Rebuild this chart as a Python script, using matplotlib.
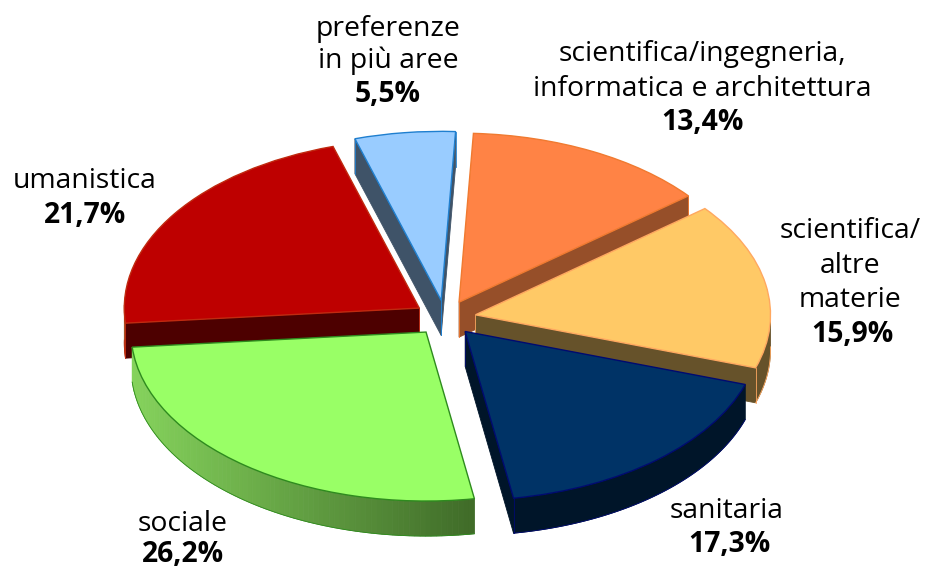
import numpy as np
import matplotlib
matplotlib.use("Agg")
import matplotlib.pyplot as plt
from matplotlib.colors import to_rgb

W, H = 927, 570

# slices, counterclockwise from the top
names = ["preferenze\nin più aree", "umanistica", "sociale", "sanitaria",
         "scientifica/\naltre\nmaterie", "scientifica/ingegneria,\ninformatica e architettura"]
values = [5.5, 21.7, 26.2, 17.3, 15.9, 13.4]
pct_labels = ["5,5%", "21,7%", "26,2%", "17,3%", "15,9%", "13,4%"]

top_colors = ["#99CCFF", "#BE0000", "#99FF66", "#003366", "#FFC966", "#FF8345"]
edge_colors = ["#1F7FCF", "#C02A10", "#2E8B1E", "#000A70", "#FFA860", "#F07A30"]
cut_colors = ["#3F5368", "#4D0000", "#4A7A30", "#001529", "#66522A", "#964F29"]
rim_left = ["#3F5368", "#A04010", "#85D35C", "#001529", "#66522A", "#964F29"]
rim_right = ["#3F5368", "#A04010", "#3F6B28", "#001529", "#66522A", "#964F29"]
draw_order = [0, 5, 1, 4, 3, 2]

# pie geometry in pixels
cx, cy = 445, 318
rx, ry = 295, 169
explode_px = 31
depth_px = 35

fig = plt.figure(figsize=(W / 100, H / 100), dpi=100)
ax = fig.add_axes([0, 0, 1, 1])

wedges, _ = ax.pie(values, colors=top_colors, startangle=87.2, counterclock=True,
                   explode=[explode_px / rx] * len(values), radius=1.0,
                   wedgeprops={"linewidth": 1.0})
ax.set_aspect("auto")
ax.set_xlim(-cx / rx, (W - cx) / rx)
ax.set_ylim((cy - H) / ry, cy / ry)
depth = depth_px / ry


def side_quad(p, q, color, z):
    xs = [p[0], q[0], q[0], p[0]]
    ys = [p[1], q[1], q[1] - depth, p[1] - depth]
    ax.fill(xs, ys, facecolor=color, edgecolor=color, linewidth=0.6, zorder=z)


for rank, i in enumerate(draw_order):
    w = wedges[i]
    z = 2 + rank
    c0, c1 = w.center[0], w.center[1]
    t1, t2 = w.theta1, w.theta2
    w.set_edgecolor(edge_colors[i])
    w.set_zorder(z + 0.5)

    # cut faces that look towards the viewer
    for t, normal in ((t1, t1 - 90), (t2, t2 + 90)):
        if np.sin(np.radians(normal)) < 0:
            end = (c0 + np.cos(np.radians(t)), c1 + np.sin(np.radians(t)))
            side_quad((c0, c1), end, cut_colors[i], z)
            ax.plot([end[0], end[0]], [end[1], end[1] - depth], color=edge_colors[i], lw=0.6, zorder=z + 0.2)
            ax.plot([c0, c0], [c1, c1 - depth], color=edge_colors[i], lw=0.6, zorder=z + 0.2)

    # outer rim, shaded from left to right
    angs = np.radians(np.linspace(t1, t2, 90))
    px = c0 + np.cos(angs)
    py = c1 + np.sin(angs)
    front = np.where(np.sin(angs) < 0.02)[0]
    if len(front) > 1:
        if rim_left[i] == rim_right[i]:
            # one flat piece, no seams
            xs = np.concatenate([px[front], px[front][::-1]])
            ys = np.concatenate([py[front], py[front][::-1] - depth])
            ax.fill(xs, ys, facecolor=rim_left[i], edgecolor=rim_left[i], linewidth=0.6, zorder=z + 0.1)
        else:
            lo, hi = px[front].min(), px[front].max()
            a, b = np.array(to_rgb(rim_left[i])), np.array(to_rgb(rim_right[i]))
            for j0, j1 in zip(front[:-1], front[1:]):
                f = (0.5 * (px[j0] + px[j1]) - lo) / (hi - lo)
                side_quad((px[j0], py[j0]), (px[j1], py[j1]), tuple(a + (b - a) * f), z + 0.1)
        ax.plot(px[front], py[front] - depth, color=edge_colors[i], lw=0.6, zorder=z + 0.2)

# label positions in pixels, one line per entry
name_pos = [[(388, 29), (388, 61)], [(85, 181)], [(183, 524)], [(727, 511)],
            [(850, 231), (850, 266), (850, 300)], [(702, 54), (702, 89)]]
pct_pos = [(388, 95), (85, 215), (183, 555), (729, 545), (852, 334), (702, 122)]

font = "Open Sans"
for i in range(len(values)):
    for line, (x, y) in zip(names[i].split("\n"), name_pos[i]):
        fig.text(x / W, 1 - y / H, line, ha="center", va="center", fontsize=20.4, family=font, color="black")
    x, y = pct_pos[i]
    fig.text(x / W, 1 - y / H, pct_labels[i], ha="center", va="center", fontsize=20.3, family=font,
             fontweight="bold", color="black")

fig.savefig("out.png", dpi=100)
